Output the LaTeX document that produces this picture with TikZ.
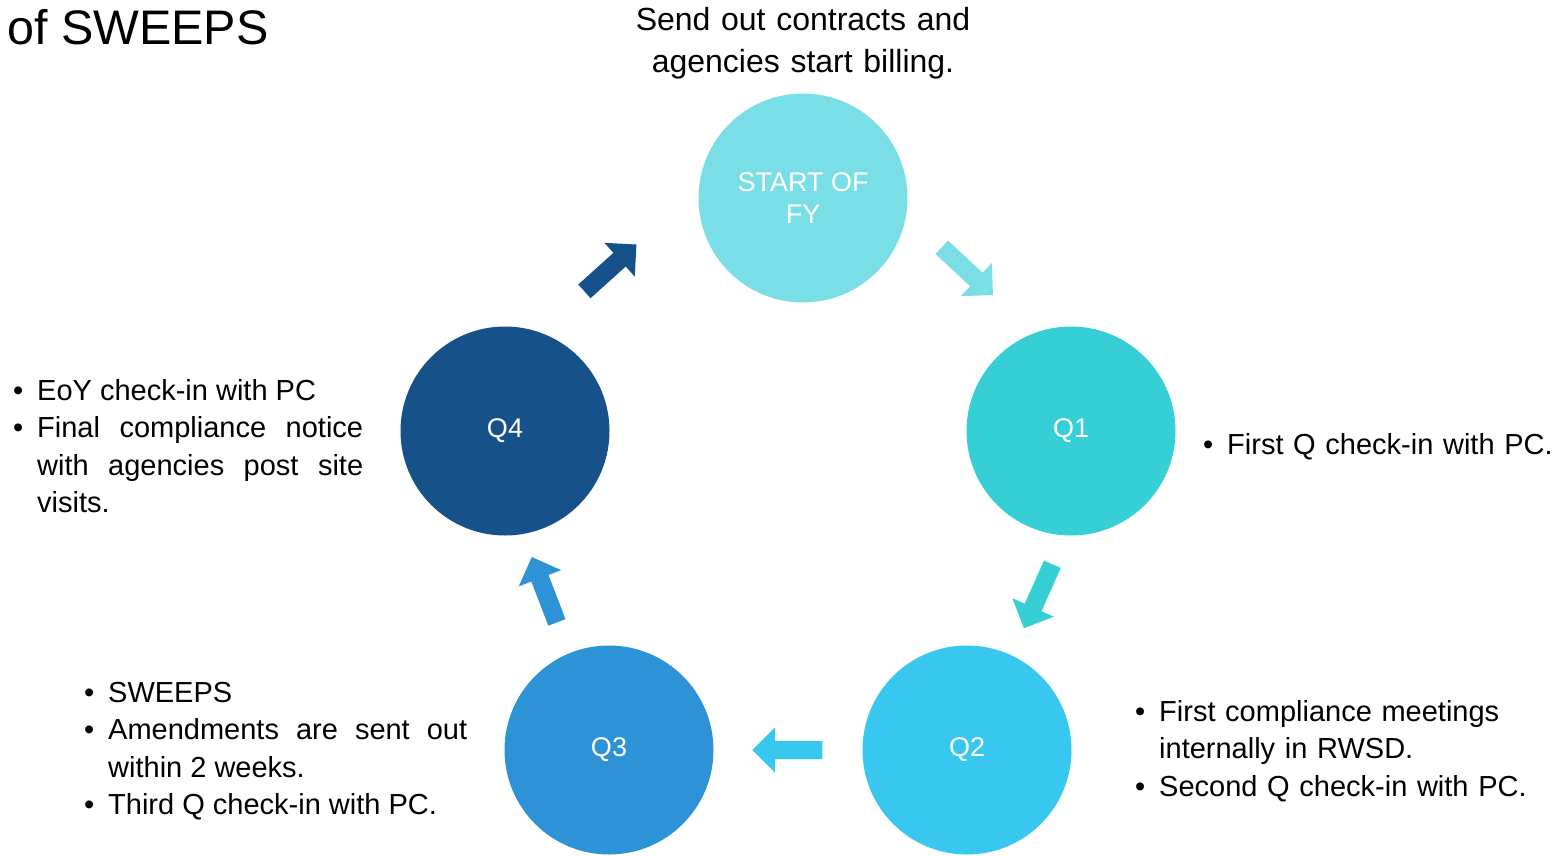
\documentclass[tikz,border=0pt]{standalone}
\usepackage{fontspec}
\setmainfont{Liberation Sans}
\usetikzlibrary{shapes.arrows}
\definecolor{fycyan}{RGB}{121,222,229}
\definecolor{qoneteal}{RGB}{54,207,213}
\definecolor{qtwosky}{RGB}{56,200,239}
\definecolor{qthreeblue}{RGB}{46,146,215}
\definecolor{qfournavy}{RGB}{22,82,137}
\newcommand{\bitem}{\noindent\hangindent=24pt\hangafter=1\hbox to 24pt{\textbullet\hfil}}
\newcommand{\notefont}{\fontsize{29}{37.5}\selectfont\sloppy\hyphenpenalty=10000 \exhyphenpenalty=10000 \relax}

\begin{document}
\begin{tikzpicture}[x=1pt,y=1pt,
    phase/.style={circle,minimum size=209pt,inner sep=0pt,text=white,align=center,font=\fontsize{27}{32}\selectfont},
    turn/.style={single arrow,minimum height=70pt,single arrow head extend=13.5pt,single arrow head indent=0pt,inner xsep=0pt,inner ysep=9pt},
    note/.style={anchor=base west,inner sep=0pt,font=\notefont}]
    \useasboundingbox (0,0) rectangle (1559,-855);
    \node[anchor=base west,inner sep=0pt,font=\fontsize{48.5}{56}\selectfont] (title) at (7,-44) {of SWEEPS};
    \node[phase,fill=fycyan] (fy) at (803,-198) {START OF\\FY};
    \node[phase,fill=qoneteal] (q1) at (1071,-431) {\raisebox{-3pt}{Q1}};
    \node[phase,fill=qtwosky] (q2) at (967,-750) {\raisebox{-3pt}{Q2}};
    \node[phase,fill=qthreeblue] (q3) at (609,-750) {\raisebox{-3pt}{Q3}};
    \node[phase,fill=qfournavy] (q4) at (505,-431) {\raisebox{-3pt}{Q4}};
    \foreach \name/\x/\y/\ang/\col in {fyqone/964/-268/-43/fycyan,qoneqtwo/1040/-592/-114/qoneteal,
        qtwoqthree/792/-750/180/qtwosky,qthreeqfour/546/-594/111/qthreeblue,qfourfy/607/-271/42/qfournavy}
      {\node[turn,fill=\col,rotate=\ang] (\name) at (\x,\y) {};}
    \node[anchor=base,inner sep=0pt,text width=420pt,align=center,font=\fontsize{32}{42}\selectfont] (fynote) at (803,-30)
      {Send out contracts and\\agencies start billing.};
    \node[note,text width=360pt] (q1note) at (1203,-454) {\bitem First Q check-in with PC.\par};
    \node[note,text width=424pt,align=left] (q2note) at (1135,-721)
      {\bitem First compliance meetings internally in RWSD.\par\bitem Second Q check-in with PC.\par};
    \node[note,text width=383pt,align=justify] (q3note) at (84,-702)
      {\bitem SWEEPS\par\bitem Amendments are sent out within 2 weeks.\par\bitem Third Q check-in with PC.\par};
    \node[note,text width=350pt,align=justify] (q4note) at (13,-400)
      {\bitem EoY check-in with PC\par\bitem Final compliance notice with agencies post site visits.\par};
\end{tikzpicture}
\end{document}
